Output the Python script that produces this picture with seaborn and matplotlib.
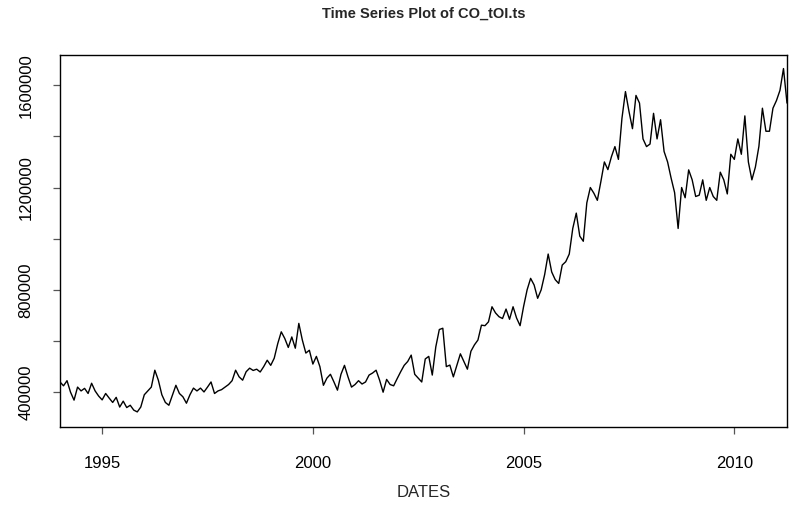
import numpy as np
import pandas as pd
import matplotlib
matplotlib.use('Agg')
import matplotlib.pyplot as plt
import seaborn as sns

# Monthly values of CO open interest (in thousands), Jan 1994 onwards
start_year = 1994
oi_1994_1997 = [440, 425, 445, 400, 369, 420, 405, 415, 395, 435, 405, 385,
                370, 395, 377, 360, 380, 342, 365, 340, 349, 330, 323, 342,
                390, 405, 420, 486, 447, 390, 360, 349, 388, 427, 395, 382,
                357, 390, 416, 405, 416, 401, 420, 440, 395, 405, 410, 420]
oi_1998_2001 = [430, 445, 486, 460, 447, 480, 494, 485, 490, 479, 500, 525,
                505, 533, 590, 636, 610, 575, 616, 572, 669, 604, 553, 564,
                510, 540, 500, 427, 455, 470, 440, 408, 470, 505, 460, 420,
                430, 445, 432, 440, 467, 475, 486, 447, 400, 450, 430, 425]
oi_2002_2005 = [453, 480, 505, 520, 545, 470, 455, 440, 530, 540, 467, 577,
                645, 650, 500, 506, 460, 505, 550, 520, 490, 560, 585, 604,
                662, 660, 675, 734, 710, 695, 688, 725, 685, 734, 690, 660,
                735, 800, 845, 819, 767, 800, 860, 940, 870, 840, 825, 897]
oi_2006_2009 = [910, 940, 1040, 1100, 1010, 990, 1140, 1200, 1178, 1150, 1223, 1300,
                1270, 1320, 1360, 1310, 1470, 1575, 1498, 1430, 1560, 1530, 1390, 1360,
                1370, 1490, 1390, 1465, 1341, 1300, 1237, 1180, 1040, 1200, 1160, 1269,
                1230, 1165, 1170, 1230, 1150, 1200, 1165, 1150, 1260, 1230, 1175, 1330]
oi_2010_2011 = [1310, 1390, 1330, 1480, 1300, 1230, 1280, 1361, 1510, 1420, 1420, 1510,
                1540, 1580, 1665, 1530]

oi = np.array(oi_1994_1997 + oi_1998_2001 + oi_2002_2005 + oi_2006_2009 + oi_2010_2011) * 1000
dates = start_year + np.arange(len(oi)) / 12

df = pd.DataFrame({'DATES': dates, 'CO_tOI': oi})

sns.set_style('ticks')
plt.rcParams['font.family'] = ['Liberation Sans', 'DejaVu Sans']

fig = plt.figure(figsize=(7.95, 5.12), dpi=100)
ax = fig.add_axes([60 / 795, 1 - 427 / 512, (787 - 60) / 795, (427 - 55) / 512])

sns.lineplot(data=df, x='DATES', y='CO_tOI', color='black', linewidth=1.0, ax=ax)

ax.set_xlim(dates[0], dates[-1])
ax.set_ylim(264000, 1718000)

ax.set_xticks([1995, 2000, 2005, 2010])
ax.set_xticklabels(['1995', '2000', '2005', '2010'])
yt = [400000, 600000, 800000, 1000000, 1200000, 1400000, 1600000]
ax.set_yticks(yt)
ax.set_yticklabels(['400000', '', '800000', '', '1200000', '', '1600000'],
                   rotation=90, va='center')

ax.tick_params(axis='both', direction='out', length=5, width=0.9, color='#555555',
               labelsize=12, labelcolor='black')
ax.tick_params(axis='x', pad=16)
ax.tick_params(axis='y', pad=14)

for s in ax.spines.values():
    s.set_visible(True)
    s.set_color('black')
    s.set_linewidth(1.0)

ax.set_xlabel('DATES', fontsize=12, labelpad=10)
ax.set_ylabel('')
ax.set_title('Time Series Plot of CO_tOI.ts', fontsize=10.5, fontweight='bold', pad=27)

fig.savefig('out.png', dpi=100)
